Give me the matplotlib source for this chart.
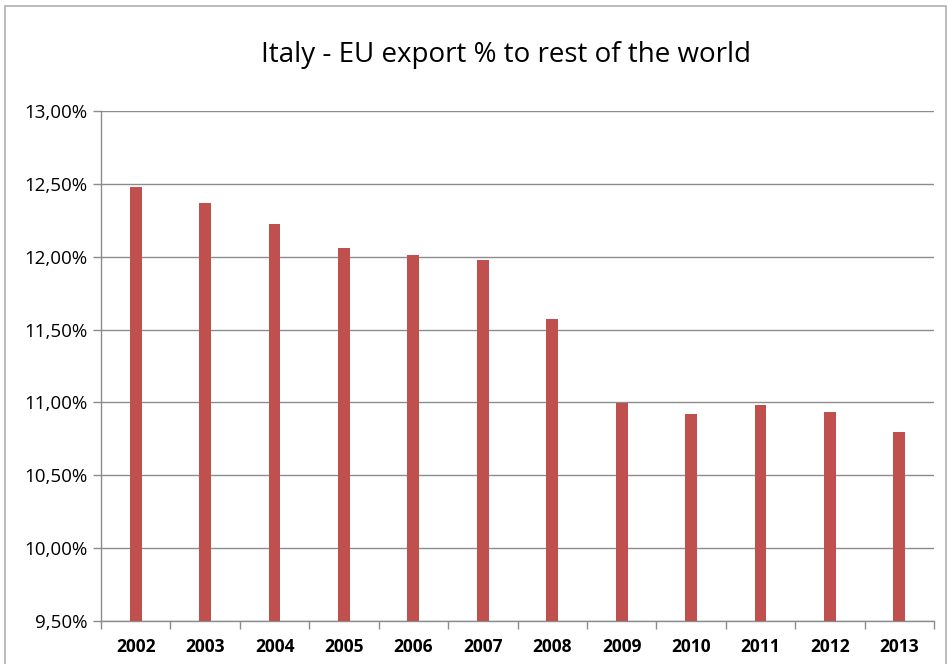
import matplotlib
matplotlib.use("Agg")
import matplotlib.pyplot as plt
from matplotlib.ticker import FuncFormatter, FixedLocator, MultipleLocator
from matplotlib.patches import Rectangle
import numpy as np

years = ["2002", "2003", "2004", "2005", "2006", "2007", "2008",
         "2009", "2010", "2011", "2012", "2013"]
values = [12.48, 12.37, 12.225, 12.06, 12.01, 11.975, 11.575,
          10.998, 10.92, 10.985, 10.933, 10.80]
title = "Italy - EU export % to rest of the world"

plt.rcParams['font.family'] = ['Open Sans', 'DejaVu Sans']

fig = plt.figure(figsize=(9.48, 6.64), dpi=100)
ax = fig.add_axes([101/948, 1-621/664, (934-101)/948, (621-111)/664])

x = np.arange(len(years))
ax.bar(x, values, width=0.17, color="#C0504D", zorder=3)

ax.set_ylim(9.5, 13.0)
ax.set_xlim(-0.5, len(years)-0.5)
ax.yaxis.set_major_locator(MultipleLocator(0.5))
ax.yaxis.set_major_formatter(FuncFormatter(lambda v, p: f"{v:.2f}%".replace(".", ",")))
ax.grid(axis="y", color="#8c8c8c", linewidth=1, zorder=0)

ax.set_xticks(x)
ax.set_xticklabels(years, fontweight="bold", fontsize=12.5)
ax.tick_params(axis="x", length=0, pad=12)
ax.xaxis.set_minor_locator(FixedLocator(np.arange(-0.5, len(years), 1.0)))
ax.tick_params(axis="x", which="minor", length=6, color="#8c8c8c", width=1)
ax.tick_params(axis="y", length=6, color="#8c8c8c", width=1, labelsize=13.5, pad=4)

for s in ["top", "right"]:
    ax.spines[s].set_visible(False)
for s in ["left", "bottom"]:
    ax.spines[s].set_color("#8c8c8c")
    ax.spines[s].set_linewidth(1)

fig.text(506/948, 1-55/664, title, ha="center", va="center", fontsize=20)

fig.patches.append(Rectangle((5/948, -0.01), 941/948, 1-6/664+0.01,
                             transform=fig.transFigure, fill=False,
                             edgecolor="#b0b0b0", linewidth=1.2))

fig.savefig("out.png", dpi=100)
